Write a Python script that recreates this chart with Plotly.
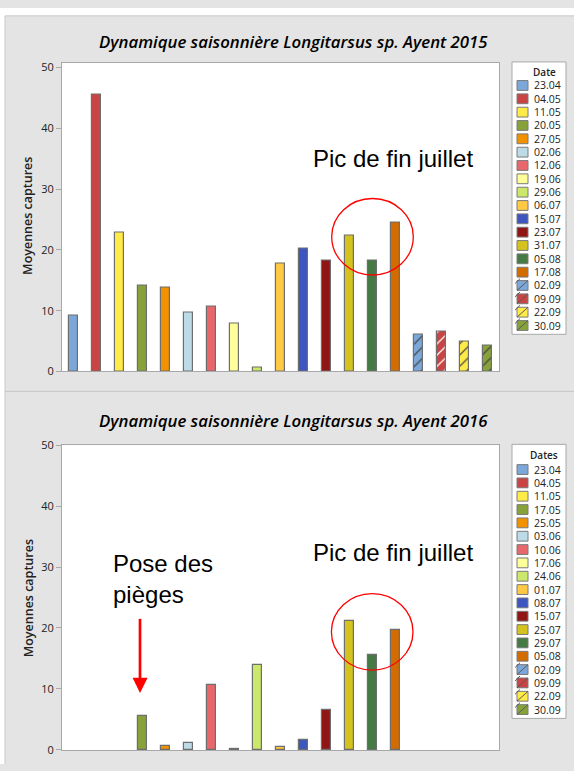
import plotly.graph_objects as go

W, H = 574, 771

# ---- data ---------------------------------------------------------------
dates_2015 = ["23.04", "04.05", "11.05", "20.05", "27.05", "02.06", "12.06",
              "19.06", "29.06", "06.07", "15.07", "23.07", "31.07", "05.08",
              "17.08", "02.09", "09.09", "22.09", "30.09"]
captures_2015 = [9.2, 45.5, 22.8, 14.1, 13.8, 9.7, 10.7, 7.8, 0.6, 17.8,
                 20.2, 18.3, 22.4, 18.3, 24.5, 6.0, 6.5, 4.9, 4.2]

dates_2016 = ["23.04", "04.05", "11.05", "17.05", "25.05", "03.06", "10.06",
              "17.06", "24.06", "01.07", "08.07", "15.07", "25.07", "29.07",
              "05.08", "02.09", "09.09", "22.09", "30.09"]
captures_2016 = [None, None, None, 5.5, 0.6, 1.2, 10.6, 0.15, 13.9, 0.5,
                 1.6, 6.5, 21.1, 15.5, 19.7, None, None, None, None]

date_colors = ["#7ba7d9", "#c94545", "#ffeb47", "#87a23a", "#f39200",
               "#bddbe6", "#e8676b", "#ffff99", "#cbe86b", "#ffc845",
               "#3d56c0", "#901616", "#d4c21e", "#457a45", "#d26b00",
               "#7ba7d9", "#c94545", "#ffeb47", "#87a23a"]
hatched = [False] * 15 + [True] * 4

titles = ["Dynamique saisonnière Longitarsus sp. Ayent 2015",
          "Dynamique saisonnière Longitarsus sp. Ayent 2016"]
legend_titles = ["Date", "Dates"]
y_ticks = [0, 10, 20, 30, 40, 50]


# ---- helpers: pixel -> paper coordinates (margins are zero) -------------
def px(x):
    return x / W


def py(y):
    return 1 - y / H


BG = "#e4e4e4"
AXIS_GREY = "#a8a8a8"
BAR_EDGE = "#6e6e6e"
HATCH = "#5a5a5a"
RED = "#ff0000"

fig = go.Figure()

for i, (dates, vals) in enumerate([(dates_2015, captures_2015),
                                   (dates_2016, captures_2016)]):
    suffix = "" if i == 0 else "2"
    fig.add_trace(go.Bar(
        x=dates, y=vals,
        xaxis="x" + suffix, yaxis="y" + suffix,
        width=0.43,
        marker=dict(
            color=date_colors,
            line=dict(color=BAR_EDGE, width=1.2),
            pattern=dict(shape=["/" if h else "" for h in hatched],
                         fgcolor=HATCH, fgopacity=1, size=8, solidity=0.15),
        ),
        showlegend=False,
        hoverinfo="x+y",
    ))

axis_common = dict(showline=True, mirror=True, linecolor=AXIS_GREY,
                   linewidth=1, showgrid=False, zeroline=False)

x_dom = [px(62), px(499)]
fig.update_layout(
    width=W, height=H,
    margin=dict(l=0, r=0, t=0, b=0),
    paper_bgcolor=BG, plot_bgcolor="white",
    font=dict(family="Open Sans", color="#222222"),
    bargap=0,
    xaxis=dict(domain=x_dom, anchor="y", type="category",
               categoryorder="array", categoryarray=dates_2015,
               range=[-0.5, 18.5], showticklabels=False, ticks="",
               **axis_common),
    yaxis=dict(domain=[py(370.7), py(55.7)], anchor="x",
               range=[0, 50.8], tickvals=y_ticks, ticks="outside",
               ticklen=5, tickcolor=AXIS_GREY,
               tickfont=dict(size=11, color="#222222"), **axis_common),
    xaxis2=dict(domain=x_dom, anchor="y2", type="category",
                categoryorder="array", categoryarray=dates_2016,
                range=[-0.5, 18.5], showticklabels=False, ticks="",
                **axis_common),
    yaxis2=dict(domain=[py(756.7), py(445.7)], anchor="x2",
                range=[0, 50], tickvals=y_ticks, ticks="outside",
                ticklen=5, tickcolor=AXIS_GREY,
                tickfont=dict(size=11, color="#222222"), **axis_common),
)

shapes = []
annotations = []

# page edge and panel frames
shapes.append(dict(type="rect", xref="paper", yref="paper", x0=0, x1=px(5),
                   y0=0, y1=1, fillcolor="white", line=dict(width=0)))
shapes.append(dict(type="rect", xref="paper", yref="paper", x0=0, x1=1,
                   y0=py(8), y1=1, fillcolor="white", line=dict(width=0)))
for y in (8, 391):
    shapes.append(dict(type="line", xref="paper", yref="paper",
                       x0=px(5), x1=1, y0=py(y), y1=py(y),
                       line=dict(color="#c8c8c8", width=1)))
shapes.append(dict(type="line", xref="paper", yref="paper",
                   x0=px(5), x1=px(5), y0=0, y1=py(8),
                   line=dict(color="#c8c8c8", width=1)))

# chart titles and y-axis titles
for title, ty, ay in zip(titles, (34, 421), (212, 602)):
    annotations.append(dict(
        text=title, xref="paper", yref="paper", x=px(293), y=py(ty),
        xanchor="center", yanchor="middle", showarrow=False,
        font=dict(family="Open Sans", size=16.8, color="black",
                  style="italic", weight=600)))
    annotations.append(dict(
        text="Moyennes captures", xref="paper", yref="paper",
        x=px(28), y=py(ay), xanchor="center", yanchor="middle",
        textangle=-90, showarrow=False,
        font=dict(family="Open Sans", size=12.5, color="#222222",
                  weight=600)))


# legends drawn as swatches + labels
def add_legend(labels, title, box_top, title_y, first_y, step=13.6):
    last_y = first_y + step * (len(labels) - 1)
    shapes.append(dict(type="rect", xref="paper", yref="paper",
                       x0=px(512), x1=px(566), y0=py(last_y + 9),
                       y1=py(box_top), fillcolor="white",
                       line=dict(color="#a8a8a8", width=1)))
    annotations.append(dict(
        text=title, xref="paper", yref="paper", x=px(544), y=py(title_y),
        xanchor="center", yanchor="middle", showarrow=False,
        font=dict(family="Open Sans", size=10, color="#222222",
                  weight=600)))
    for k, lab in enumerate(labels):
        yc = first_y + step * k
        x0, x1, y0, y1 = 517, 528, yc - 5, yc + 5
        shapes.append(dict(type="rect", xref="paper", yref="paper",
                           x0=px(x0), x1=px(x1), y0=py(y1), y1=py(y0),
                           fillcolor=date_colors[k],
                           line=dict(color="#7a7a7a", width=1)))
        if hatched[k]:
            shapes.append(dict(type="line", xref="paper", yref="paper",
                               x0=px(x0), x1=px(x1), y0=py(y1), y1=py(y0),
                               line=dict(color=HATCH, width=1)))
            shapes.append(dict(type="line", xref="paper", yref="paper",
                               x0=px(x0 - 2), x1=px(x0 + 3), y0=py(y0 + 3),
                               y1=py(y0 - 2),
                               line=dict(color=HATCH, width=1)))
        annotations.append(dict(
            text=lab, xref="paper", yref="paper", x=px(532), y=py(yc),
            xanchor="left", yanchor="middle", showarrow=False,
            font=dict(family="Open Sans", size=10.5, color="#222222")))


add_legend(dates_2015, legend_titles[0], 55, 65, 79)
add_legend(dates_2016, legend_titles[1], 445, 456, 470.7)

# highlighted end-of-July peak
for (cx, cy), note_y in zip([(372.5, 233.3), (372.2, 636.2)], (153.4, 555)):
    shapes.append(dict(type="circle", xref="paper", yref="paper",
                       x0=px(cx - 40.8), x1=px(cx + 40.8),
                       y0=py(cy + 39), y1=py(cy - 39),
                       line=dict(color=RED, width=1.3)))
    annotations.append(dict(
        text="Pic de fin juillet", xref="paper", yref="paper",
        x=px(393), y=py(note_y), xanchor="center", yanchor="middle",
        showarrow=False,
        font=dict(family="Liberation Sans", size=24, color="black")))

# trap installation marker
annotations.append(dict(
    text="Pose des<br>pièges", xref="paper", yref="paper",
    x=px(111), y=py(551), xanchor="left", yanchor="top", align="left",
    showarrow=False,
    font=dict(family="Liberation Sans", size=24, color="black")))
shapes.append(dict(type="line", xref="paper", yref="paper",
                   x0=px(140), x1=px(140), y0=py(623), y1=py(685),
                   line=dict(color=RED, width=2.7)))
shapes.append(dict(type="path", xref="paper", yref="paper",
                   path=(f"M {px(132.6)},{py(683)} L {px(147.6)},{py(683)} "
                         f"L {px(140)},{py(698.5)} Z"),
                   fillcolor=RED, line=dict(width=0)))

fig.update_layout(shapes=shapes, annotations=annotations)
fig.write_html("out.html")
